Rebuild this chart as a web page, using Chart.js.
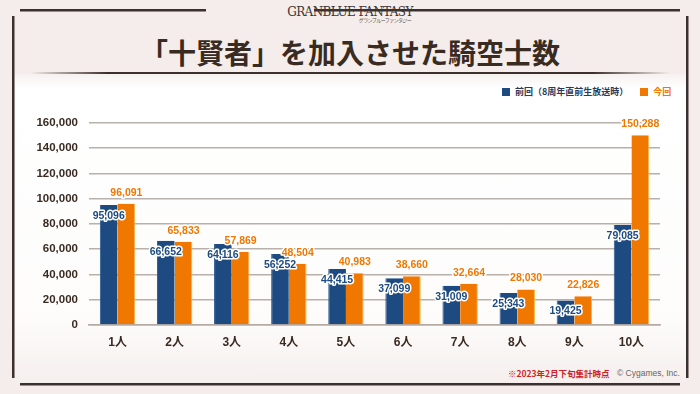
<!DOCTYPE html>
<html lang="ja">
<head>
<meta charset="utf-8">
<title>「十賢者」を加入させた騎空士数</title>
<script src="https://cdn.jsdelivr.net/npm/chart.js@4"></script>
<style>
  html, body { margin: 0; padding: 0; }
  body {
    width: 700px; height: 394px; overflow: hidden; position: relative;
    background: #f4edeb;
    font-family: "Noto Sans CJK JP", "Liberation Sans", sans-serif;
  }
  .panel {
    position: absolute; left: 14px; right: 14px; top: 74px; bottom: 12px;
    background: linear-gradient(to bottom, #f6f1ef 0px, #ffffff 14px, #fdfcfb 80%, #f5efed 100%);
  }
  .sep {
    position: absolute; left: 30px; right: 30px; top: 72px; height: 2px;
    background: linear-gradient(to right, rgba(60,48,44,0), #3c302c 12%, #3c302c 88%, rgba(60,48,44,0));
  }
  .frame-h {
    position: absolute; height: 2px; background: #3a302e;
    box-shadow: 0 1px 0 #9a8e8a;
  }
  .frame-v {
    position: absolute; width: 2px; background: #3a302e;
    box-shadow: 1px 0 0 #9a8e8a;
  }
  .logo {
    position: absolute; left: 0; right: 0; top: 5px; text-align: center;
    font-family: "DejaVu Serif", serif; font-size: 12px; color: #3f3533;
    letter-spacing: -0.6px;
  }
  .logo small {
    display: block; font-family: "Noto Sans CJK JP"; font-size: 5px;
    margin-top: -3px; padding-left: 70px; color: #5a504d;
  }
  h1 {
    position: absolute; left: 0; right: 0; top: 34px; margin: 0;
    text-align: center; font-size: 28px; line-height: 36px; font-weight: 700;
    color: #3a2b22; font-family: "Noto Sans CJK JP", sans-serif;
  }
  .legend {
    position: absolute; top: 86px; left: 502px; font-size: 9px; font-weight: 700;
    white-space: nowrap; line-height: 10px;
  }
  .legend span { display: inline-block; vertical-align: middle; }
  .sw { width: 8px; height: 8px; margin-right: 5px; }
  .note {
    position: absolute; left: 508px; top: 367px; font-size: 8.5px; font-weight: 700;
    color: #cc1f2a; white-space: nowrap;
  }
  .copy {
    position: absolute; left: 617px; top: 368px; font-size: 8.5px;
    color: #6a6462; font-family: "Liberation Sans", sans-serif; white-space: nowrap;
  }
  #wrap { position: absolute; left: 0; top: 105px; width: 700px; height: 255px; }
</style>
</head>
<body>
<div class="panel"></div>
<div class="sep"></div>
<div class="frame-h" style="left:20px; width:186px; top:9px;"></div>
<div class="frame-h" style="left:314px; width:366px; top:9px;"></div>
<div class="frame-h" style="left:20px; width:660px; top:383px;"></div>
<div class="frame-v" style="left:12px; top:16px; height:362px;"></div>
<div class="frame-v" style="left:686px; top:16px; height:362px;"></div>
<div class="logo">GRANBLUE FANTASY<small>グランブルーファンタジー</small></div>
<h1>「十賢者」を加入させた騎空士数</h1>
<div class="legend">
  <span class="sw" style="background:#1d4a80"></span><span style="color:#2c3957">前回（8周年直前生放送時）</span>
  <span class="sw" style="background:#f07800; margin-left:10px"></span><span style="color:#f07800">今回</span>
</div>
<div id="wrap"><canvas id="chart"></canvas></div>
<div class="note">※2023年2月下旬集計時点</div>
<div class="copy">© Cygames, Inc.</div>

<script>
const categories = ['1人', '2人', '3人', '4人', '5人', '6人', '7人', '8人', '9人', '10人'];
const previous = [95096, 66652, 64116, 56252, 44415, 37099, 31009, 25343, 19425, 79085];
const current = [96091, 65833, 57869, 48504, 40983, 38660, 32664, 28030, 22826, 150288];
const yTicks = [0, 20000, 40000, 60000, 80000, 100000, 120000, 140000, 160000];

const seriesNames = ['前回（8周年直前生放送時）', '今回'];
const BLUE = '#1d4a80';
const ORANGE = '#f07800';
const TEXT = '#3a2b22';

function fmt(v) {
  return v.toLocaleString('en-US');
}

// values drawn on the bars, white outline like the original
const valueLabels = {
  id: 'valueLabels',
  afterDatasetsDraw(chart) {
    const ctx = chart.ctx;
    ctx.save();
    ctx.font = 'bold 10.5px "Liberation Sans", sans-serif';
    ctx.textAlign = 'center';
    ctx.textBaseline = 'middle';
    ctx.lineJoin = 'round';
    chart.data.datasets.forEach((ds, i) => {
      const meta = chart.getDatasetMeta(i);
      meta.data.forEach((bar, j) => {
        const text = fmt(ds.data[j]);
        const y = i === 0 ? bar.y + 11 : bar.y - 11;
        ctx.lineWidth = 3;
        ctx.strokeStyle = '#ffffff';
        ctx.strokeText(text, bar.x, y);
        ctx.fillStyle = i === 0 ? '#1d4a80' : ORANGE;
        ctx.fillText(text, bar.x, y);
      });
    });
    ctx.restore();
  }
};

new Chart(document.getElementById('chart'), {
  type: 'bar',
  data: {
    labels: categories,
    datasets: [
      { label: seriesNames[0], data: previous, backgroundColor: BLUE, borderColor: '#2a5a92', borderWidth: { left: 1 } },
      { label: seriesNames[1], data: current, backgroundColor: ORANGE, borderColor: '#f2b640', borderWidth: { right: 1 } }
    ]
  },
  options: {
    responsive: true,
    maintainAspectRatio: false,
    animation: false,
    categoryPercentage: 0.62,
    barPercentage: 1,
    layout: { padding: { left: 0, right: 40, top: 8, bottom: 0 } },
    plugins: {
      legend: { display: false },
      tooltip: { enabled: false }
    },
    scales: {
      x: {
        grid: { display: false, drawTicks: false },
        border: { color: '#b3aaa4', width: 1.5 },
        ticks: {
          color: TEXT,
          padding: 10,
          font: { family: '"Liberation Sans", "Noto Sans CJK JP", sans-serif', size: 12, weight: 'bold' }
        },
        afterFit(scale) { scale.height = 35; }
      },
      y: {
        min: 0,
        max: 160000,
        afterBuildTicks(scale) { scale.ticks = yTicks.map(v => ({ value: v })); },
        grid: { color: '#b8b0aa', lineWidth: 1.5, drawTicks: false },
        border: { display: false },
        ticks: {
          color: TEXT,
          padding: 11,
          callback: v => fmt(v),
          font: { family: '"Liberation Sans", sans-serif', size: 11.5, weight: 'bold' }
        },
        afterFit(scale) { scale.width = 89; }
      }
    }
  },
  plugins: [valueLabels]
});
</script>
</body>
</html>
